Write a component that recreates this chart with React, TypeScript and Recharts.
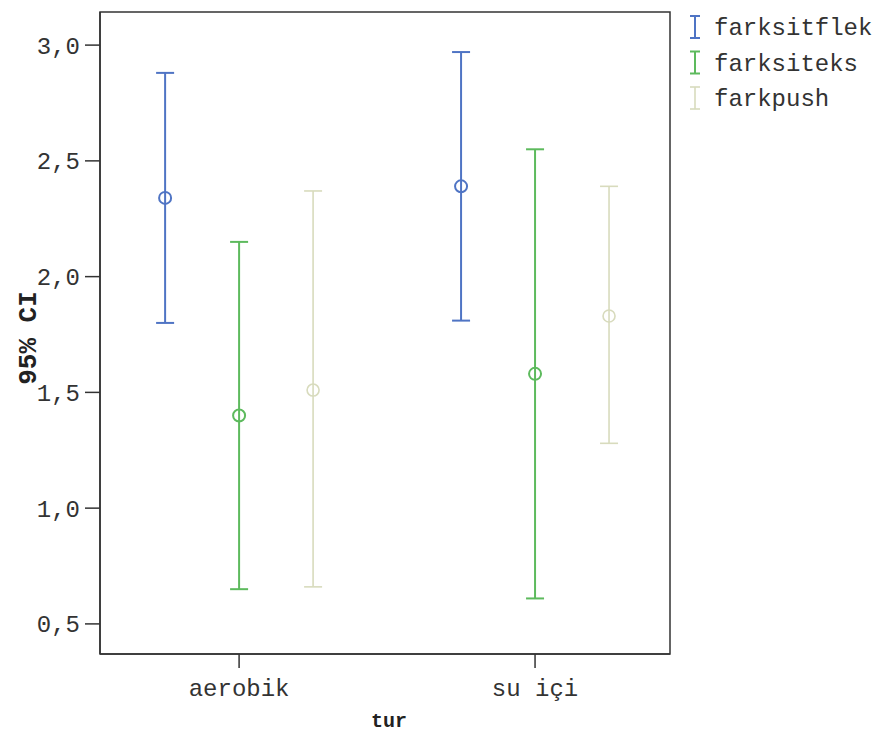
import React from 'react';
import {
  ScatterChart,
  Scatter,
  XAxis,
  YAxis,
  ErrorBar,
  ReferenceArea,
  Label,
} from 'recharts';

// ---- data ----
const categories = ['aerobik', 'su içi'];
const seriesNames = ['farksitflek', 'farksiteks', 'farkpush'];

const farksitflekMean = [2.34, 2.39];
const farksitflekLower = [1.80, 1.81];
const farksitflekUpper = [2.88, 2.97];

const farksitekMean = [1.40, 1.58];
const farksitekLower = [0.65, 0.61];
const farksitekUpper = [2.15, 2.55];

const farkpushMean = [1.51, 1.83];
const farkpushLower = [0.66, 1.28];
const farkpushUpper = [2.37, 2.39];

const yTicks = [0.5, 1.0, 1.5, 2.0, 2.5, 3.0];

// ---- styling / layout ----
const colors = ['#4f74c4', '#5dba5d', '#d8dbbd'];
const strokeWidths = [2, 2, 1.6];
const seriesOffsets = [-0.25, 0, 0.25];
const xDomain = [-0.47, 1.456];
const yDomain = [0.37, 3.143];
const MONO = '"Liberation Mono", "Courier New", monospace';

const seriesData = [
  [farksitflekMean, farksitflekLower, farksitflekUpper],
  [farksitekMean, farksitekLower, farksitekUpper],
  [farkpushMean, farkpushLower, farkpushUpper],
].map(([mean, lower, upper], s) =>
  categories.map((c, i) => ({
    x: i + seriesOffsets[s],
    y: mean[i],
    err: [mean[i] - lower[i], upper[i] - mean[i]],
  }))
);

const makeShape = (color: string, sw: number) => (props: any) => {
  const { cx, cy } = props;
  if (cx == null || cy == null) return <g />;
  return <circle cx={cx} cy={cy} r={6} fill="none" stroke={color} strokeWidth={sw} />;
};

const fmt = (v: number) => v.toFixed(1).replace('.', ',');

export default function App() {
  return (
    <div style={{ position: 'absolute', left: 0, top: 0, width: 876, height: 735, background: '#fff' }}>
      <ScatterChart
        width={876}
        height={735}
        margin={{ top: 12, right: 206, bottom: 31, left: 0 }}
      >
        <XAxis
          dataKey="x"
          type="number"
          domain={xDomain}
          allowDataOverflow
          ticks={[0, 1]}
          tickFormatter={(v: number) => categories[Math.round(v)]}
          height={50}
          tickSize={14}
          tickMargin={11}
          stroke="#333"
          strokeWidth={1.5}
          tick={{ fontFamily: MONO, fontSize: 24, fill: '#333' }}
        >
          <Label
            value="tur"
            position="bottom"
            offset={9}
            dx={4}
            style={{ fontFamily: MONO, fontSize: 20, fontWeight: 'bold', fill: '#222' }}
          />
        </XAxis>
        <YAxis
          dataKey="y"
          type="number"
          domain={yDomain}
          allowDataOverflow
          ticks={yTicks}
          tickFormatter={fmt}
          width={100}
          tickSize={15}
          tickMargin={5}
          stroke="#333"
          strokeWidth={1.5}
          tick={{ fontFamily: MONO, fontSize: 24, fill: '#333' }}
        >
          <Label
            value="95% CI"
            position="center"
            angle={-90}
            dx={-23}
            dy={5}
            style={{ fontFamily: MONO, fontSize: 26, fontWeight: 'bold', fill: '#222', textAnchor: 'middle' }}
          />
        </YAxis>
        <ReferenceArea
          x1={xDomain[0]}
          x2={xDomain[1]}
          y1={yDomain[0]}
          y2={yDomain[1]}
          fill="none"
          stroke="#333"
          strokeWidth={1.5}
          ifOverflow="visible"
        />
        {seriesData.map((d, s) => (
          <Scatter
            key={seriesNames[s]}
            name={seriesNames[s]}
            data={d}
            isAnimationActive={false}
            shape={makeShape(colors[s], strokeWidths[s])}
          >
            <ErrorBar
              dataKey="err"
              direction="y"
              width={9}
              stroke={colors[s]}
              strokeWidth={strokeWidths[s]}
              isAnimationActive={false}
            />
          </Scatter>
        ))}
      </ScatterChart>
      <svg
        width={876}
        height={735}
        style={{ position: 'absolute', left: 0, top: 0, pointerEvents: 'none' }}
      >
        {seriesNames.map((n, i) => {
          const cy = 27 + i * 35.5;
          return (
            <g key={n}>
              <line x1={695} x2={695} y1={cy - 11} y2={cy + 11} stroke={colors[i]} strokeWidth={strokeWidths[i]} />
              <line x1={690} x2={700} y1={cy - 11} y2={cy - 11} stroke={colors[i]} strokeWidth={strokeWidths[i]} />
              <line x1={690} x2={700} y1={cy + 11} y2={cy + 11} stroke={colors[i]} strokeWidth={strokeWidths[i]} />
              <text x={714} y={cy} dy="0.35em" fontFamily={MONO} fontSize={24} fill="#333">
                {n}
              </text>
            </g>
          );
        })}
      </svg>
    </div>
  );
}
